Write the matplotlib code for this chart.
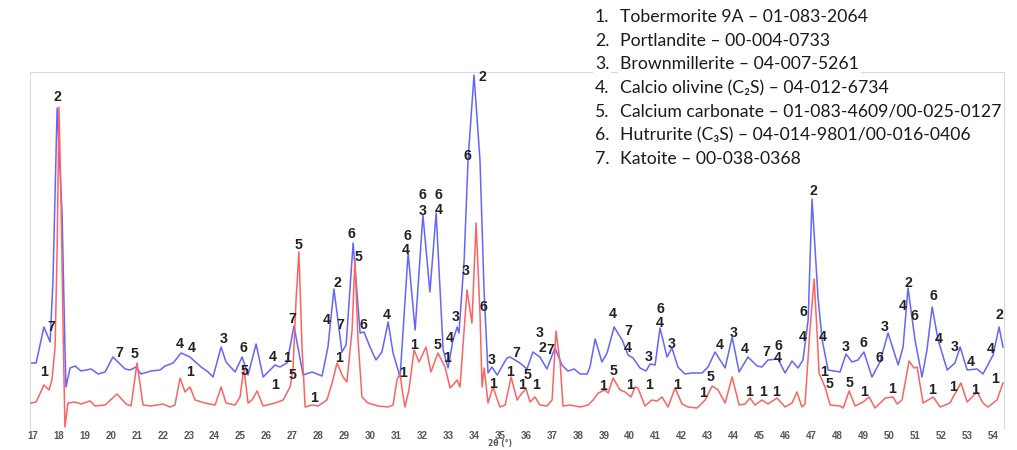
import matplotlib
matplotlib.use("Agg")
import matplotlib.pyplot as plt


# Diffractogram traces, 2-theta (deg) and intensity (a.u., offset for display)
blue_2theta = [16.92, 17.12, 17.42, 17.66, 17.77, 17.93, 18.12, 18.23, 18.27,
               18.43, 18.62, 18.85, 19.24, 19.51, 19.78, 20.08, 20.55, 20.74,
               20.97, 21.16, 21.55, 21.90, 22.09, 22.40, 22.71, 23.05, 23.48,
               23.75, 23.94, 24.25, 24.44, 24.79, 25.06, 25.29, 25.60, 25.87,
               26.33, 26.52, 26.79, 27.06, 27.41, 27.76, 28.14, 28.37, 28.60,
               28.91, 29.07, 29.34, 29.61, 29.76, 29.99, 30.22, 30.45, 30.69,
               30.88, 31.15, 31.46, 31.73, 32.03, 32.30, 32.54, 32.81, 33.00,
               33.19, 33.35, 33.42, 33.62, 33.77, 34.00, 34.23, 34.39, 34.54,
               34.69, 34.89, 35.27, 35.39, 35.77, 36.04, 36.27, 36.54, 36.81,
               37.12, 37.39, 37.62, 37.86, 38.09, 38.36, 38.47, 38.67, 38.93,
               39.13, 39.40, 39.71, 39.94, 40.13, 40.40, 40.63, 40.79, 40.98,
               41.17, 41.44, 41.63, 41.86, 42.13, 42.40, 42.79, 43.02, 43.29,
               43.68, 43.95, 44.22, 44.56, 44.91, 45.10, 45.33, 45.72, 45.99,
               46.26, 46.49, 46.68, 46.88, 47.03, 47.26, 47.42, 47.65, 48.11,
               48.34, 48.57, 48.80, 49.03, 49.34, 49.65, 49.96, 50.35, 50.54,
               50.73, 51.00, 51.27, 51.46, 51.66, 51.89, 52.24, 52.54, 52.74,
               53.01, 53.39, 53.62, 54.01, 54.24, 54.39]
blue_counts = [63, 63, 99, 84, 146, 318, 213, 79, 39,
               58, 60, 55, 57, 52, 54, 69, 57, 56,
               59, 52, 55, 56, 60, 63, 73, 69, 59,
               54, 49, 79, 64, 54, 69, 51, 82, 49,
               61, 59, 63, 100, 51, 54, 50, 79, 137,
               74, 81, 183, 93, 94, 79, 66, 74, 104,
               73, 49, 173, 96, 211, 134, 213, 76, 58,
               86, 99, 93, 166, 266, 351, 266, 133, 53,
               59, 51, 68, 69, 63, 57, 74, 69, 57,
               78, 61, 55, 57, 52, 52, 59, 87, 64,
               73, 99, 86, 71, 68, 58, 55, 62, 61,
               98, 69, 78, 59, 52, 53, 53, 59, 74,
               58, 89, 54, 69, 60, 59, 66, 67, 53,
               65, 58, 66, 106, 227, 129, 86, 56, 54,
               72, 64, 66, 74, 49, 64, 93, 61, 79,
               138, 86, 49, 76, 119, 86, 56, 63, 79,
               56, 57, 52, 71, 99, 79]

red_2theta = [16.92, 17.12, 17.42, 17.62, 17.73, 17.85, 17.93, 18.00, 18.08,
              18.16, 18.23, 18.35, 18.62, 18.85, 19.20, 19.39, 19.78, 20.24,
              20.59, 20.78, 21.01, 21.24, 21.55, 22.01, 22.28, 22.47, 22.67,
              22.86, 23.05, 23.25, 23.63, 24.02, 24.25, 24.44, 24.79, 24.98,
              25.13, 25.29, 25.44, 25.64, 25.87, 26.33, 26.64, 26.91, 27.02,
              27.14, 27.25, 27.37, 27.49, 27.76, 27.99, 28.33, 28.53, 28.72,
              28.95, 29.10, 29.30, 29.41, 29.53, 29.68, 29.91, 30.30, 30.69,
              30.88, 31.03, 31.15, 31.23, 31.34, 31.49, 31.69, 31.88, 32.15,
              32.34, 32.61, 32.88, 33.08, 33.19, 33.35, 33.46, 33.73, 33.92,
              34.08, 34.23, 34.31, 34.39, 34.54, 34.73, 35.00, 35.20, 35.43,
              35.66, 35.85, 36.01, 36.16, 36.35, 36.54, 36.81, 37.01, 37.16,
              37.32, 37.43, 37.70, 38.09, 38.40, 38.59, 38.79, 39.05, 39.17,
              39.36, 39.63, 39.82, 40.05, 40.21, 40.32, 40.59, 40.86, 41.05,
              41.25, 41.48, 41.75, 42.02, 42.25, 42.60, 42.91, 43.18, 43.41,
              43.68, 43.95, 44.22, 44.45, 44.64, 44.83, 45.10, 45.33, 45.68,
              45.99, 46.26, 46.45, 46.64, 46.76, 46.95, 47.11, 47.22, 47.30,
              47.53, 47.73, 48.11, 48.23, 48.46, 48.69, 49.00, 49.23, 49.46,
              49.85, 50.15, 50.31, 50.50, 50.77, 50.96, 51.08, 51.31, 51.70,
              51.97, 52.35, 52.47, 52.77, 53.01, 53.39, 53.62, 53.81, 54.16,
              54.39]
red_counts = [23, 24, 41, 36, 46, 79, 176, 319, 226,
              96, -1, 23, 24, 22, 25, 20, 21, 32,
              22, 20, 63, 21, 20, 22, 19, 21, 48,
              34, 39, 26, 23, 21, 39, 23, 21, 29,
              58, 23, 26, 35, 20, 23, 26, 39, 56,
              126, 174, 79, 19, 21, 20, 26, 43, 63,
              49, 44, 96, 166, 86, 29, 23, 20, 19,
              21, 46, 53, 36, 19, 36, 76, 64, 79,
              54, 73, 59, 38, 41, 46, 39, 136, 103,
              203, 113, 39, 58, 23, 39, 19, 21, 49,
              26, 33, 37, 24, 29, 21, 20, 26, 95,
              63, 20, 21, 19, 21, 26, 33, 36, 33,
              48, 36, 34, 29, 39, 38, 20, 26, 25,
              29, 19, 38, 22, 19, 18, 26, 40, 36,
              23, 49, 21, 22, 28, 21, 26, 22, 28,
              19, 23, 34, 19, 22, 96, 147, 96, 53,
              39, 21, 20, 18, 35, 20, 24, 29, 18,
              28, 29, 22, 26, 65, 58, 59, 23, 29,
              19, 23, 29, 43, 24, 34, 23, 19, 26,
              43]

# Phase identification marks placed next to the reflections
peak_2theta = [17.93, 17.69, 17.42, 20.32, 20.93, 22.67, 23.13, 23.05, 24.36,
               25.13, 25.17, 26.25, 26.79, 26.33, 27.02, 26.98, 27.25, 27.83,
               28.33, 28.84, 28.72, 28.80, 29.26, 29.53, 29.72, 30.65, 31.26,
               31.42, 31.38, 32.00, 32.00, 32.61, 32.65, 31.69, 32.61, 32.96,
               33.08, 33.31, 33.69, 33.73, 34.31, 34.35, 34.69, 34.73, 35.62,
               35.39, 36.08, 35.85, 36.39, 36.51, 36.62, 36.93, 39.36, 39.36,
               38.97, 39.94, 39.94, 40.01, 40.75, 40.75, 41.17, 41.17, 41.60,
               41.83, 42.83, 43.10, 43.48, 43.99, 44.45, 44.60, 45.14, 45.64,
               45.26, 45.72, 45.72, 46.68, 46.68, 47.07, 47.45, 47.49, 47.72,
               48.34, 48.46, 49.03, 49.03, 49.61, 49.81, 50.11, 50.54, 50.73,
               50.96, 51.70, 51.93, 51.66, 52.54, 52.47, 53.16, 53.31, 53.93,
               54.24, 54.09]
peak_height = [329, 99, 54, 73, 72, 82, 78, 54, 87,
               78, 55, 69, 68, 41, 51, 107, 181, 28,
               106, 101, 143, 68, 192, 169, 101, 111, 53,
               190, 176, 231, 215, 231, 216, 81, 81, 68,
               88, 109, 155, 270, 349, 119, 66, 42, 73,
               54, 51, 41, 41, 93, 78, 76, 112, 55,
               40, 95, 78, 41, 69, 41, 117, 103, 82,
               41, 33, 49, 81, 93, 77, 34, 34, 34,
               74, 80, 68, 114, 89, 235, 89, 54, 42,
               79, 43, 83, 34, 68, 99, 37, 120, 143,
               110, 130, 87, 36, 79, 39, 64, 36, 77,
               111, 47]
peak_phase = ["2", "7", "1", "7", "5", "4", "4", "1", "3",
              "6", "5", "4", "1", "1", "5", "7", "5", "1",
              "4", "7", "2", "1", "6", "5", "6", "4", "1",
              "6", "4", "6", "3", "6", "4", "1", "5", "1",
              "4", "3", "3", "6", "2", "6", "3", "1", "7",
              "1", "5", "1", "1", "3", "2", "7", "4", "5",
              "1", "7", "4", "1", "3", "1", "6", "4", "3",
              "1", "1", "5", "4", "3", "4", "1", "1", "1",
              "7", "6", "4", "6", "4", "2", "4", "1", "5",
              "3", "5", "6", "1", "6", "3", "1", "4", "2",
              "6", "6", "4", "1", "3", "1", "4", "1", "4",
              "2", "1"]

# Reference cards
phase_numbers = ["1.", "2.", "3.", "4.", "5.", "6.", "7."]
phase_names = ["Tobermorite 9A \u2013 01-083-2064",
               "Portlandite \u2013 00-004-0733",
               "Brownmillerite \u2013 04-007-5261",
               "Calcio olivine (C\u2082S) \u2013 04-012-6734",
               "Calcium carbonate \u2013 01-083-4609/00-025-0127",
               "Hutrurite (C\u2083S) \u2013 04-014-9801/00-016-0406",
               "Katoite \u2013 00-038-0368"]

tick_values = list(range(17, 55))


def draw_patterns(ax):
    ax.plot(blue_2theta, blue_counts, color="#6464ff", lw=1.1, zorder=2)
    ax.plot(red_2theta, red_counts, color="#ff6262", lw=1.1, zorder=3)


def draw_phase_marks(ax):
    for x, y, s in zip(peak_2theta, peak_height, peak_phase):
        ax.text(x, y, s, ha="center", va="center", fontsize=10.2,
                fontweight="bold", color="#222222",
                family=["Liberation Sans", "DejaVu Sans"], zorder=4)


def draw_card_list(fig):
    top = 17
    step = 23.7
    for i, (num, name) in enumerate(zip(phase_numbers, phase_names)):
        y = 1 - (top + i * step) / 450
        box = dict(facecolor="white", edgecolor="none", pad=1.5)
        fig.text(595 / 1017, y, num, ha="left", va="center", fontsize=12.7,
                 color="#1a1a1a", family=["Lato", "DejaVu Sans"], bbox=box)
        fig.text(620 / 1017, y, name, ha="left", va="center", fontsize=12.7,
                 color="#1a1a1a", family=["Lato", "DejaVu Sans"], bbox=box)


def main():
    fig = plt.figure(figsize=(10.17, 4.5), dpi=100)
    ax = fig.add_axes([30 / 1017, 22 / 450, 974 / 1017, 356 / 450])

    draw_patterns(ax)
    draw_phase_marks(ax)

    ax.set_xlim(16.884, 54.43)
    ax.set_ylim(-2, 354)
    ax.set_xticks(tick_values)
    ax.set_xticklabels([str(t) for t in tick_values], fontsize=7,
                       fontweight="bold", color="#555555",
                       family="Liberation Sans")
    ax.tick_params(axis="x", length=0, pad=2)
    ax.set_yticks([])
    for side in ("left", "top", "right"):
        ax.spines[side].set_color("#d9d9d9")
        ax.spines[side].set_linewidth(0.8)
    ax.spines["bottom"].set_visible(False)

    ax.set_xlabel("2\u03b8 (\u00b0)", fontsize=5.5, fontweight="bold",
                  color="#555555", family="DejaVu Sans")
    ax.xaxis.set_label_coords(470 / 974, -0.032)

    draw_card_list(fig)

    fig.savefig("out.png", dpi=100, facecolor="white")


if "__main__" == __name__:
    main()
